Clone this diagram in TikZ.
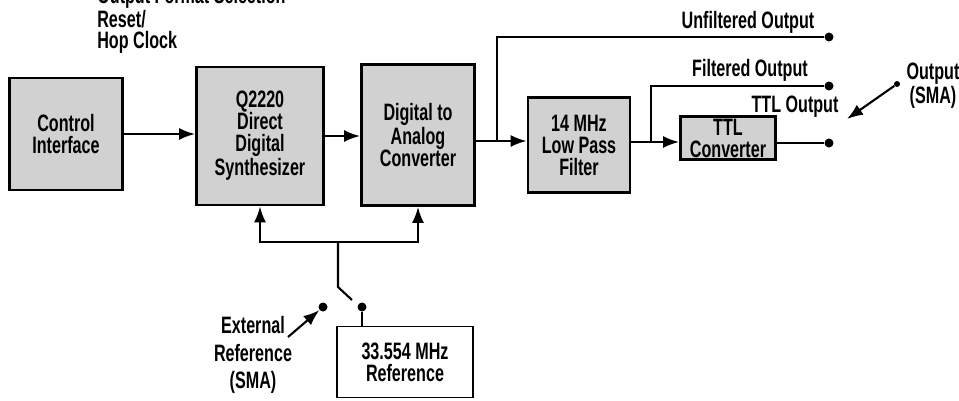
\documentclass[tikz,border=0pt]{standalone}
\usepackage{fontspec}
\setmainfont{Liberation Sans}[FakeStretch=0.68]
\usetikzlibrary{arrows.meta, calc}

\begin{document}
\begin{tikzpicture}[x=0.02cm, y=-0.02cm,
  font=\fontsize{13.5}{12.5}\selectfont\bfseries,
  block/.style={draw, line width=1.6pt, fill=black!18, align=center, inner sep=0pt},
  refbox/.style={draw, line width=1.1pt, fill=white, align=center, inner sep=0pt},
  line/.style={line width=1.2pt},
  arr/.style={line width=1.2pt, -{Latex[length=3.2mm, width=2.4mm]}},
  jack/.style={circle, fill, inner sep=0pt, minimum size=0.18cm}]
\useasboundingbox (0,0) rectangle (959,400);

% Blocks
\node[block, minimum width=2.26cm, minimum height=2.24cm] (ctrl) at (66,134) {Control\\Interface};
\node[block, minimum width=2.54cm, minimum height=2.76cm] (dds) at (260,136) {Q2220\\Direct\\Digital\\Synthesizer};
\node[block, minimum width=2.26cm, minimum height=2.82cm] (dac) at (418,135) {Digital to\\Analog\\Converter};
\node[block, minimum width=2.04cm, minimum height=1.9cm] (lpf) at (579,145) {14 MHz\\Low Pass\\Filter};
\node[block, minimum width=1.9cm, minimum height=0.86cm] (ttl) at (728,138) {TTL\\Converter};
\node[refbox, minimum width=2.72cm, minimum height=1.42cm] (ref) at (405,362) {33.554 MHz\\Reference};

% Output jacks
\node[jack] (uout) at (829,37) {};
\node[jack] (fout) at (829,86) {};
\node[jack] (tout) at (829,143) {};
\node[jack, minimum size=0.12cm] (smadot) at (897,84) {};
\node[jack] (extdot) at (323,307) {};
\node[jack] (intdot) at (362,307) {};

% Labels
\node[anchor=south west, align=left, inner sep=0pt, font=\fontsize{13.5}{12}\selectfont\bfseries] (ctlbl) at (97,54) {Output Format Selection\\Reset/\\Hop Clock};
\node (ulbl) at (748,22) {Unfiltered Output};
\node (flbl) at (750,70) {Filtered Output};
\node (tlbl) at (795,107) {TTL Output};
\node[align=center] (smalbl) at (933,86) {Output\\(SMA)};
\node[align=center, font=\fontsize{13.5}{15.5}\selectfont\bfseries] (extlbl) at (253,355) {External\\Reference\\(SMA)};

% Signal path
\coordinate (tap1) at (497,141);
\coordinate (tap2) at (651,142);
\draw[arr] (ctrl.east) -- (ctrl.east -| dds.west);
\draw[arr] (dds.east) -- (dds.east -| dac.west);
\draw[arr] (tap1 -| dac.east) -- (tap1 -| lpf.west);
\draw[line] (tap1) |- (uout);
\draw[arr] (tap2 -| lpf.east) -- (tap2 -| ttl.west);
\draw[line] (tap2) |- (fout);
\draw[line] (ttl.east |- tout) -- (tout);

% Reference distribution and switch
\coordinate (bus) at (338,242);
\coordinate (pivot) at (338,287);
\draw[arr] (bus) -| (dds.south);
\draw[arr] (bus) -| (dac.south);
\draw[line] (bus) -- (pivot) -- ++(14,13);
\draw[line] (intdot) -- (intdot |- ref.north);

% Pointer arrows
\coordinate (smatip) at (847,119);
\coordinate (exttail) at (288,337);
\draw[arr] (smadot) -- (smatip);
\draw[arr] (exttail) -- (extdot);
\end{tikzpicture}
\end{document}
